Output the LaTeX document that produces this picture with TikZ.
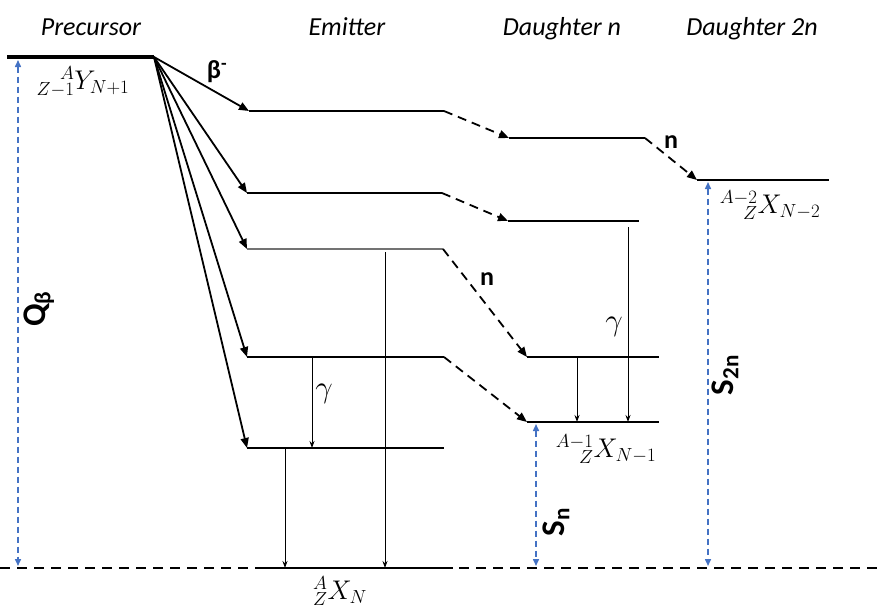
\documentclass[tikz,border=0pt]{standalone}
\usepackage{fix-cm}
\usepackage[no-math]{fontspec}
\setmainfont{Carlito}
\usetikzlibrary{arrows.meta}
\definecolor{qblue}{RGB}{68,114,196}
\newcommand{\rsc}[1]{\llap{$\scriptstyle #1$}}
\begin{document}
\begin{tikzpicture}[x=1pt,y=-1pt,
  level/.style={line width=1.3pt},
  greylevel/.style={line width=1.5pt,black!55},
  thicklevel/.style={line width=2.3pt},
  betaarr/.style={line width=1.8pt,-{Triangle[length=10pt,width=8pt]}},
  narr/.style={line width=1.8pt,dash pattern=on 9pt off 6pt,-{Triangle[length=10pt,width=8pt]}},
  garr/.style={line width=1pt,-{Stealth[length=7pt,width=5pt]}},
  qarr/.style={qblue,line width=1.5pt,dash pattern=on 6pt off 4pt,{Triangle[length=7pt,width=6pt]}-{Triangle[length=7pt,width=6pt]}},
  hdr/.style={font=\fontsize{26}{30}\selectfont\itshape,anchor=base,inner sep=0pt},
  mlbl/.style={font=\fontsize{27}{31}\selectfont,inner sep=0pt},
  glbl/.style={font=\fontsize{31}{35}\selectfont,inner sep=0pt},
  blbl/.style={font=\fontsize{26}{30}\selectfont\bfseries,inner sep=0pt},
  biglbl/.style={font=\fontsize{33}{37}\selectfont\bfseries,rotate=90,inner sep=0pt},
]
\useasboundingbox (0,0) rectangle (877,605);

% headers
\node[hdr] (hP) at (91,35) {Precursor};
\node[hdr] (hE) at (347,35) {Emitter};
\node[hdr] (hD) at (562,35) {Daughter n};
\node[hdr] (hD2) at (752,35) {Daughter 2n};

% ground line
\coordinate (G0) at (0,568);
\coordinate (G1) at (877,568);
\draw[line width=2pt,dash pattern=on 10pt off 7pt] (G0) -- (G1);
\coordinate (GL) at (260,568);
\coordinate (GR) at (453,568);
\draw[thicklevel] (GL) -- (GR);

% precursor
\coordinate (P1) at (7,57);
\coordinate (P2) at (154,57);
\draw[line width=4pt] (P1) -- (P2);

% emitter levels
\coordinate (E1L) at (249,111); \coordinate (E1R) at (444,111);
\coordinate (E2L) at (247,193); \coordinate (E2R) at (442,193);
\coordinate (E3L) at (247,249); \coordinate (E3R) at (443,249);
\coordinate (E4L) at (247,357); \coordinate (E4R) at (444,357);
\coordinate (E5L) at (247,448); \coordinate (E5R) at (444,448);
\draw[level] (E1L) -- (E1R);
\draw[level] (E2L) -- (E2R);
\draw[greylevel] (E3L) -- (E3R);
\draw[level] (E4L) -- (E4R);
\draw[level] (E5L) -- (E5R);

% daughter n levels
\coordinate (D1L) at (509,138); \coordinate (D1R) at (645,138);
\coordinate (D2L) at (508,221); \coordinate (D2R) at (639,221);
\coordinate (D3L) at (527,357); \coordinate (D3R) at (659,357);
\coordinate (D0L) at (527,422); \coordinate (D0R) at (659,422);
\draw[level] (D1L) -- (D1R);
\draw[level] (D2L) -- (D2R);
\draw[level] (D3L) -- (D3R);
\draw[thicklevel] (D0L) -- (D0R);

% daughter 2n level
\coordinate (F0L) at (697,180); \coordinate (F0R) at (829,180);
\draw[thicklevel] (F0L) -- (F0R);

% beta arrows
\draw[betaarr] (P2) -- (E1L);
\draw[betaarr] (P2) -- (E2L);
\draw[betaarr] (P2) -- (E3L);
\draw[betaarr] (P2) -- (E4L);
\draw[betaarr] (P2) -- (E5L);
\node[blbl] (beta) at (217,72) {β\textsuperscript{-}};

% neutron arrows
\draw[narr] (E1R) -- (D1L);
\draw[narr] (E2R) -- (D2L);
\draw[narr] (E3R) -- (D3L);
\draw[narr] (E4R) -- (D0L);
\draw[narr] (D1R) -- (F0L);
\node[blbl] (n1) at (487,279) {n};
\node[blbl] (n2) at (671,142) {n};

% gamma arrows in emitter
\coordinate (ga1) at (385,252); \coordinate (gb1) at (385,568);
\coordinate (ga2) at (312,358); \coordinate (gb2) at (312,448);
\coordinate (ga3) at (285,449); \coordinate (gb3) at (285,568);
\draw[garr] (ga1) -- (gb1);
\draw[garr] (ga2) -- (gb2);
\draw[garr] (ga3) -- (gb3);
\node[glbl] (gam1) at (324,394) {$\gamma$};

% gamma arrows in daughter
\coordinate (gd1) at (628,227); \coordinate (ge1) at (628,422);
\coordinate (gd2) at (577,358); \coordinate (ge2) at (577,422);
\draw[garr] (gd1) -- (ge1);
\draw[garr] (gd2) -- (ge2);
\node[glbl] (gam2) at (614,327) {$\gamma$};

% blue energy arrows
\coordinate (Qa) at (18,60); \coordinate (Qb) at (18,566);
\draw[qarr] (Qa) -- (Qb);
\node[biglbl] (Q) at (39,309) {Q\textsubscript{β}};
\coordinate (Sa) at (536,424); \coordinate (Sb) at (536,566);
\draw[qarr] (Sa) -- (Sb);
\node[biglbl] (Sn) at (556,522) {S\textsubscript{n}};
\coordinate (S2a) at (708,182); \coordinate (S2b) at (708,566);
\draw[qarr] (S2a) -- (S2b);
\node[biglbl] (S2n) at (725,375) {S\textsubscript{2n}};

% nuclide labels
\node[mlbl] (Ylbl) at (83,82) {${}^{\phantom{Z-1}\rsc{A}}_{Z-1}Y_{N+1}$};
\node[mlbl] (X2lbl) at (770,206) {${}^{A-2}_{\phantom{A-2}\rsc{Z}}X_{N-2}$};
\node[mlbl] (X1lbl) at (606,450) {${}^{A-1}_{\phantom{A-1}\rsc{Z}}X_{N-1}$};
\node[mlbl] (X0lbl) at (340,591) {${}^{A}_{Z}X_{N}$};
\end{tikzpicture}
\end{document}
